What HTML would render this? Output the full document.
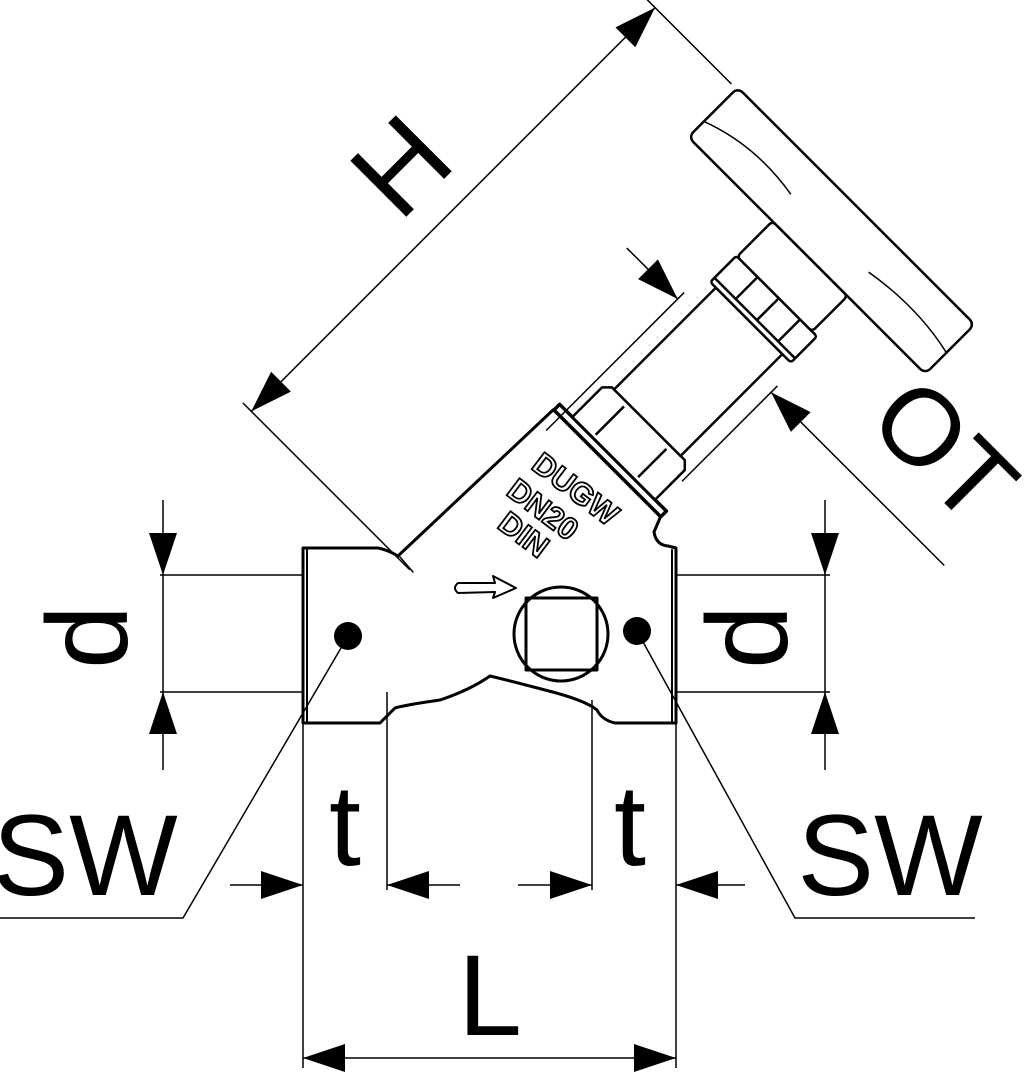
<!DOCTYPE html>
<html><head><meta charset="utf-8"><style>
html,body{margin:0;padding:0;background:#fff;}
svg{display:block;}
text{font-family:"Liberation Sans",Arial,sans-serif;}
</style></head><body>
<svg width="1030" height="1080" viewBox="0 0 1030 1080" xmlns="http://www.w3.org/2000/svg">
<g fill="none" stroke="#000" stroke-linecap="round" stroke-linejoin="round">
<!-- body outline -->
<path stroke-width="3" d="M553,410 L398,556 Q388,550 378,548 L303,548 L303,723 L380,723 Q385,718 395,708 Q405,705 440,700 Q470,690 490,676 Q515,682 545,690 Q585,700 597,710 Q602,720 615,723 L676,723 L676,548 L668,546 Q656,545 654,532 L660,518"/>
<line x1="307" y1="550" x2="307" y2="721" stroke-width="2"/>
<line x1="672" y1="550" x2="672" y2="721" stroke-width="2"/>
<circle cx="561" cy="634" r="47" stroke-width="3"/>
<rect x="526" y="598" width="71" height="72" stroke-width="3"/>
<path stroke-width="2" d="M458,583 L495,583 L493,576 L516,588 L493,598 L495,592 L458,593 Q452,588 458,583 Z"/>
<line x1="400" y1="557" x2="413" y2="572" stroke-width="1.5"/>
</g>
<circle cx="348" cy="636" r="14" fill="#000"/>
<circle cx="637" cy="631" r="14" fill="#000"/>
<g font-weight="bold" font-size="31" fill="#fff" stroke="#000" stroke-width="1.8">
<text transform="translate(530,468) rotate(37)">DUGW</text>
<text transform="translate(505,494) rotate(37)">DN20</text>
<text transform="translate(496,527) rotate(37)">DIN</text>
</g>

<!-- rotated stem / handle -->
<g transform="translate(607,463) rotate(-45)">
<g fill="#fff" stroke="#000" stroke-width="2.5" stroke-linejoin="round">
<rect x="0" y="-75" width="8" height="151" stroke-width="3.5"/>
<path d="M8,-57 L50,-57 L57,-50 L57,53 L50,60 L8,60 Z"/>
<line x1="12" y1="-28" x2="52" y2="-28"/>
<line x1="12" y1="32" x2="52" y2="32"/>
<rect x="57" y="-47" width="144" height="94"/>
<rect x="201" y="-55" width="37" height="114" rx="3"/>
<line x1="207" y1="-55" x2="207" y2="59"/>
<line x1="207" y1="-25" x2="238" y2="-25"/>
<line x1="207" y1="5" x2="238" y2="5"/>
<line x1="207" y1="35" x2="238" y2="35"/>
<rect x="238" y="-54" width="50" height="106" rx="4"/>
<rect x="288" y="-173" width="70" height="335" rx="7"/>
<path d="M310,-173 Q330,-120 320,-60 M320,50 Q330,110 318,162" fill="none" stroke-width="1.5"/>
</g>
<g stroke="#000" stroke-width="1.5" fill="none">
<line x1="-215" y1="-288" x2="356" y2="-288"/>
<line x1="-215" y1="-300" x2="-215" y2="-64"/>
<line x1="356" y1="-300" x2="356" y2="-180"/>
<line x1="166" y1="-138" x2="166" y2="-66"/>
<line x1="166" y1="66" x2="166" y2="311"/>
<line x1="-20" y1="-66" x2="175" y2="-66"/>
<line x1="40" y1="66" x2="175" y2="66"/>
</g>
<g fill="#000">
<polygon points="-215,-288 -173,-302 -173,-274"/>
<polygon points="356,-288 314,-302 314,-274"/>
<polygon points="166,-66 152,-108 180,-108"/>
<polygon points="166,66 152,108 180,108"/>
</g>
</g>

<!-- dimension lines -->
<g stroke="#000" stroke-width="1.5" fill="none">
<line x1="163" y1="500" x2="163" y2="770"/>
<line x1="160" y1="575" x2="303" y2="575"/>
<line x1="160" y1="692" x2="303" y2="692"/>
<line x1="825" y1="500" x2="825" y2="770"/>
<line x1="676" y1="575" x2="830" y2="575"/>
<line x1="676" y1="692" x2="830" y2="692"/>
<line x1="303" y1="723" x2="303" y2="1068"/>
<line x1="676" y1="723" x2="676" y2="1068"/>
<line x1="387" y1="692" x2="387" y2="890"/>
<line x1="592" y1="700" x2="592" y2="890"/>
<line x1="230" y1="885" x2="303" y2="885"/>
<line x1="387" y1="885" x2="460" y2="885"/>
<line x1="518" y1="885" x2="592" y2="885"/>
<line x1="676" y1="885" x2="745" y2="885"/>
<line x1="303" y1="1058" x2="676" y2="1058"/>
<polyline points="348,636 183,918 0,918"/>
<polyline points="637,631 795,918 975,918"/>
</g>
<g fill="#000">
<polygon points="163,575 149,533 177,533"/>
<polygon points="163,692 149,734 177,734"/>
<polygon points="825,575 811,533 839,533"/>
<polygon points="825,692 811,734 839,734"/>
<polygon points="303,885 261,871 261,899"/>
<polygon points="387,885 429,871 429,899"/>
<polygon points="592,885 550,871 550,899"/>
<polygon points="676,885 718,871 718,899"/>
<polygon points="303,1058 345,1044 345,1072"/>
<polygon points="676,1058 634,1044 634,1072"/>
</g>

<!-- labels -->
<g fill="#000" font-size="115" text-anchor="middle">
<text transform="translate(400,165) rotate(-45)" y="41">H</text>
<text transform="translate(945,450) rotate(45)" y="38" font-size="108">OT</text>
<text transform="translate(97,637) rotate(-90)" y="30">d</text>
<text transform="translate(757,637) rotate(-90)" y="30">d</text>
<text x="345" y="865">t</text>
<text x="630" y="865">t</text>
<text x="85" y="895">SW</text>
<text x="890" y="895">SW</text>
<text x="490" y="1035">L</text>
</g>
</svg>
</body></html>
